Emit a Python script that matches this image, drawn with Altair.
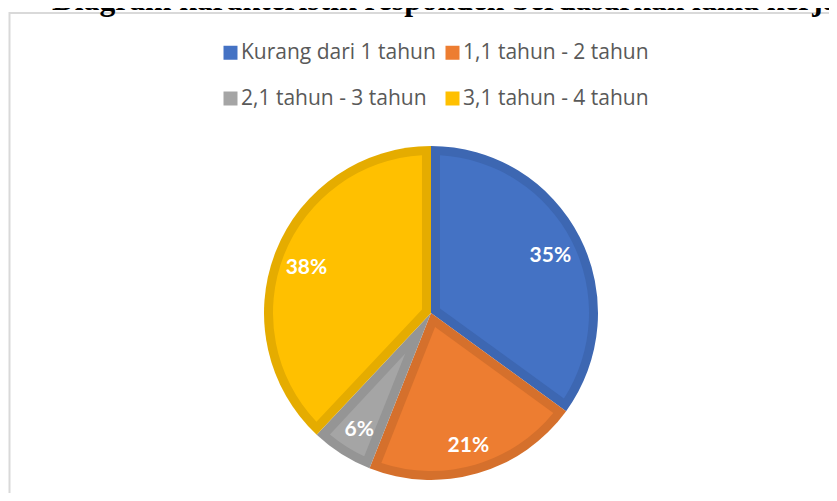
import altair as alt
import pandas as pd

title_text = "Diagram karakteristik responden berdasarkan lama kerja"
categories = ["Kurang dari 1 tahun", "1,1 tahun - 2 tahun", "2,1 tahun - 3 tahun", "3,1 tahun - 4 tahun"]
values = [35, 21, 6, 38]
labels = ["35%", "21%", "6%", "38%"]
order_idx = [0, 1, 2, 3]
fill_colors = ["#4472C4", "#ED7D31", "#A5A5A5", "#FFC000"]
border_colors = ["#3D67B2", "#D5702C", "#959595", "#E5AC00"]

df = pd.DataFrame({"category": categories, "value": values, "label": labels, "idx": order_idx})
tdf = pd.DataFrame({"t": [title_text]})

CX, CY = 423, 305
R_OUT = 167
BORDER = 9
R_IN = R_OUT - BORDER

base = alt.Chart(df).encode(
    theta=alt.Theta("value:Q", stack=True),
    order=alt.Order("idx:Q"),
    x=alt.value(CX),
    y=alt.value(CY),
)

dark = base.mark_arc(radius=R_OUT).encode(
    color=alt.Color("category:N", scale=alt.Scale(domain=categories, range=border_colors), legend=None)
)

light = base.transform_calculate(
    inner=f"{BORDER}/sin(datum.value/100*PI)", outer=f"{R_IN}"
).mark_arc(padAngle=2 * BORDER / R_IN).encode(
    radius=alt.Radius("outer:Q", scale=None),
    radius2=alt.Radius2("inner:Q"),
    color=alt.Color(
        "category:N",
        scale=alt.Scale(domain=categories, range=fill_colors),
        legend=alt.Legend(
            orient="none", legendX=212, legendY=34, columns=2, direction="horizontal", title=None,
            symbolType="square", symbolSize=196, symbolStrokeWidth=0,
            labelFont="Open Sans", labelFontSize=21, labelColor="#595959",
            rowPadding=24, columnPadding=6, labelOffset=0, padding=0, labelLimit=0,
        ),
    ),
)

text = base.mark_text(
    radius=134, font="Lato", fontWeight="bold", fontSize=21, color="white",
    align="center", baseline="middle",
).encode(text="label:N", y=alt.value(CY + 4))

frame = alt.Chart(tdf).mark_rect(filled=False, stroke="#D9D9D9", strokeWidth=2).encode(
    x=alt.value(1.5), x2=alt.value(1000), y=alt.value(5), y2=alt.value(800)
)

title = alt.Chart(tdf).mark_text(
    font="Liberation Serif", fontWeight="bold", fontSize=31.6, color="black",
    align="left", baseline="alphabetic",
).encode(text="t:N", x=alt.value(44), y=alt.value(2))

chart = alt.layer(frame, dark, light, text, title).resolve_scale(color="independent").properties(
    width=821, height=485, padding=0, autosize="none", background="white"
).configure_view(stroke=None)

chart.save("out.html", embed_options={"renderer": "svg", "actions": False})
